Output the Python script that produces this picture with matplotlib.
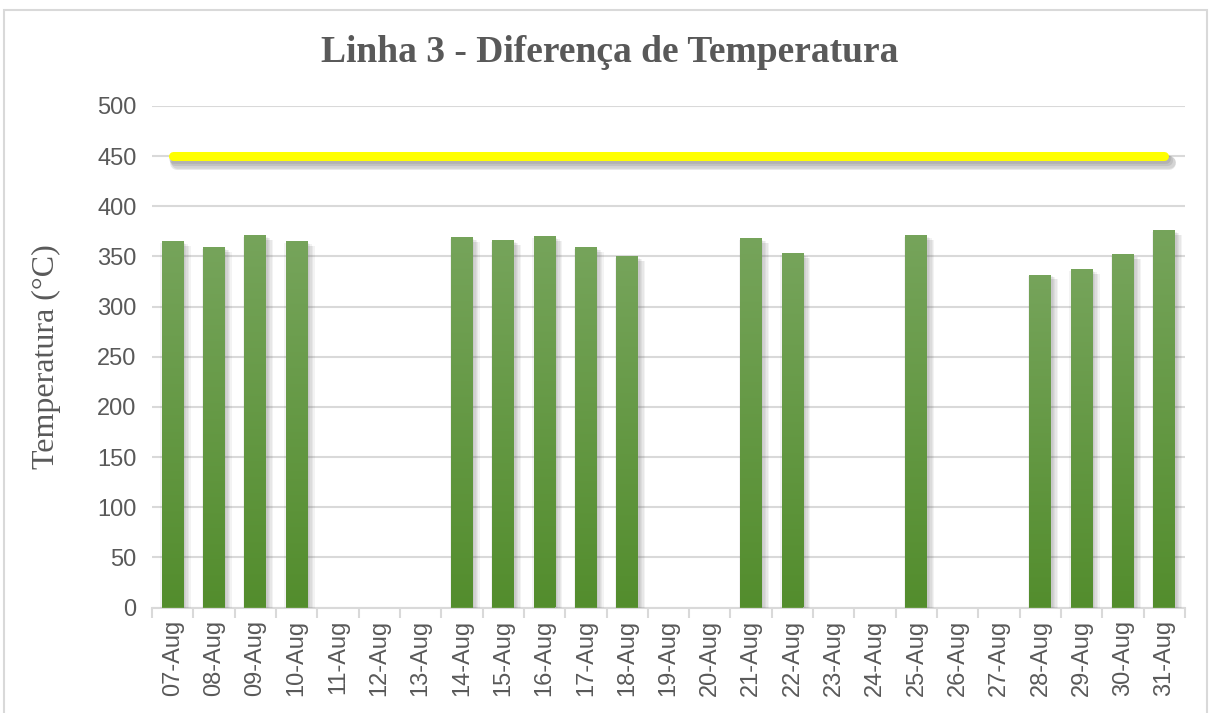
import numpy as np
import matplotlib.pyplot as plt
import matplotlib.patheffects as pe
from matplotlib.patches import Rectangle
from matplotlib.colors import LinearSegmentedColormap

# Data
dias = ["07-Aug", "08-Aug", "09-Aug", "10-Aug", "11-Aug", "12-Aug", "13-Aug",
        "14-Aug", "15-Aug", "16-Aug", "17-Aug", "18-Aug", "19-Aug", "20-Aug",
        "21-Aug", "22-Aug", "23-Aug", "24-Aug", "25-Aug", "26-Aug", "27-Aug",
        "28-Aug", "29-Aug", "30-Aug", "31-Aug"]
diferenca = [365, 359, 371, 365, np.nan, np.nan, np.nan,
             369, 366, 370, 359, 350, np.nan, np.nan,
             368, 353, np.nan, np.nan, 371, np.nan, np.nan,
             332, 337, 352, 376]
limite = [450] * len(dias)

fig = plt.figure(figsize=(12.13, 7.13), dpi=100)
ax = fig.add_axes([152 / 1213, 1 - 607.5 / 713, (1185 - 152) / 1213, (607.5 - 106) / 713])

# chart frame
fig.patches.append(Rectangle((4 / 1213, -0.05), 1203 / 1213, 1.05 - 10 / 713,
                             transform=fig.transFigure, fill=False,
                             edgecolor="#d9d9d9", linewidth=1.5))

# soft shadows built from a few faint offset copies
bar_shadow = [pe.SimplePatchShadow(offset=(dx, dy), shadow_rgbFace="#555555", alpha=0.07)
              for dx, dy in [(1, -1), (2, -2), (3, -2), (4, -3), (5, -3), (-1, -1)]]
line_shadow = [pe.SimpleLineShadow(offset=(dx, dy), shadow_color="#444444", alpha=0.12,
                                   linewidth=lw)
               for dx, dy, lw in [(1, -2, 7), (2, -3, 8), (3, -4, 9), (3, -5, 10)]]

x = np.arange(len(dias))
vals = np.array(diferenca, dtype=float)
bars = ax.bar(x[~np.isnan(vals)], vals[~np.isnan(vals)], width=0.53,
              color="#66993f", zorder=3, path_effects=bar_shadow + [pe.Normal()])

# vertical gradient on each bar
cmap = LinearSegmentedColormap.from_list("verde", ["#538d2d", "#76a45b"])
grad = np.linspace(0, 1, 256).reshape(-1, 1)
for b in bars:
    x0, w, h = b.get_x(), b.get_width(), b.get_height()
    im = ax.imshow(grad, cmap=cmap, origin="lower", aspect="auto",
                   extent=(x0, x0 + w, 0, h), zorder=4)
    im.set_clip_path(b)

ax.plot(x, limite, color="#ffff00", linewidth=6.5, solid_capstyle="round", zorder=5,
        path_effects=line_shadow + [pe.Normal()])

ax.set_xlim(-0.5, len(dias) - 0.5)
ax.set_ylim(0, 500)
ax.set_yticks(np.arange(0, 501, 50))
ax.grid(axis="y", color="#d9d9d9", linewidth=1.5, zorder=0)
ax.set_axisbelow(True)
for s in ["top", "right", "left"]:
    ax.spines[s].set_visible(False)
ax.spines["bottom"].set_color("#d9d9d9")
ax.spines["bottom"].set_linewidth(1.5)

ax.set_xticks(x)
ax.set_xticklabels(dias, rotation=90)
ax.set_xticks(np.arange(-0.5, len(dias), 1), minor=True)
ax.tick_params(axis="x", which="major", length=0, pad=9)
ax.tick_params(axis="x", which="minor", length=7, width=1.5, color="#d9d9d9")
ax.tick_params(axis="y", length=0, pad=11)
for lab in ax.get_xticklabels() + ax.get_yticklabels():
    lab.set_fontfamily("Liberation Sans")
    lab.set_fontsize(17)
    lab.set_color("#595959")

ax.set_ylabel("Temperatura (°C)", fontfamily="Liberation Serif", fontsize=23,
              color="#595959", labelpad=26)
fig.text(610 / 1213, 1 - 53 / 713, "Linha 3 - Diferença de Temperatura",
         fontfamily="Liberation Serif", fontweight="bold", fontsize=27,
         color="#595959", ha="center", va="center")

plt.savefig("out.png", dpi=100)
